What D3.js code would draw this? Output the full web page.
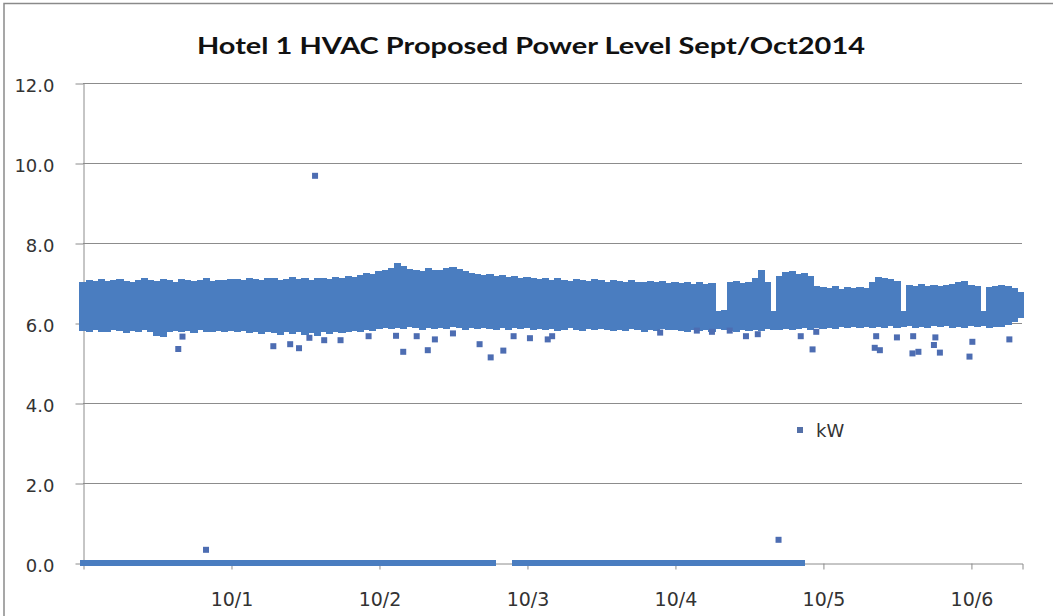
<!DOCTYPE html>
<html>
<head>
<meta charset="utf-8">
<script src="https://cdn.jsdelivr.net/npm/d3@7"></script>
<style>
  html, body { margin: 0; padding: 0; background: #ffffff; }
  svg { display: block; }
</style>
</head>
<body>
<svg id="chart" width="1053" height="616"></svg>
<script>
// ---- data -------------------------------------------------------------
const chartTitle = "Hotel 1 HVAC Proposed Power Level Sept/Oct2014";
const seriesName = "kW";

// time axis extent
const axisRange = ["2014-09-30 00:00", "2014-10-06 08:17"];
const dayTicks = ["2014-10-01 00:00", "2014-10-02 00:00", "2014-10-03 00:00",
                  "2014-10-04 00:00", "2014-10-05 00:00", "2014-10-06 00:00"];
const valueTicks = [0, 2, 4, 6, 8, 10, 12];

// hourly readings starting 9/30 00:00: highest and lowest kW in each hour
const bandStart = "2014-09-30 00:00";
const hourlyHigh = [
  6.95,7.00,6.98,7.02,6.97,7.00,7.03,6.98,6.96,7.01,7.04,6.99,6.97,7.02,7.00,6.96,7.03,7.01,6.98,7.00,7.04,6.97,7.01,6.99,7.02,
  7.03,7.00,7.05,7.02,6.99,7.04,7.06,7.01,7.03,7.07,7.02,7.05,7.00,7.04,7.06,7.03,7.08,7.05,7.10,7.07,7.12,7.18,7.15,7.22,
  7.25,7.30,7.42,7.35,7.28,7.25,7.22,7.30,7.26,7.24,7.30,7.33,7.28,7.22,7.18,7.15,7.12,7.15,7.10,7.12,7.08,7.10,7.06,7.08,
  7.05,7.02,7.06,7.00,7.04,7.01,6.98,7.03,7.00,6.97,7.02,6.99,6.96,7.00,6.97,6.95,6.99,6.96,6.94,6.98,6.95,6.97,6.93,6.96,
  6.92,6.95,6.90,6.94,6.91,6.93,6.22,6.24,6.95,6.98,6.92,6.96,7.05,7.25,6.95,6.22,7.10,7.20,7.22,7.15,7.18,7.10,6.85,6.82,
  6.80,6.84,6.78,6.82,6.80,6.83,6.79,6.95,7.08,7.05,7.02,6.98,6.22,6.88,6.85,6.90,6.86,6.88,6.84,6.87,6.90,6.95,6.97,6.88,
  6.85,6.22,6.82,6.86,6.88,6.85,6.80,6.70
];
const hourlyLow = [
  5.88,5.85,5.90,5.86,5.84,5.89,5.87,5.83,5.88,5.85,5.90,5.86,5.76,5.72,5.84,5.88,5.85,5.87,5.83,5.89,5.86,5.84,5.88,5.85,5.87,
  5.84,5.88,5.82,5.86,5.80,5.85,5.83,5.78,5.84,5.80,5.86,5.78,5.82,5.76,5.84,5.80,5.86,5.82,5.85,5.88,5.84,5.90,5.87,5.92,
  5.95,5.92,5.96,5.93,5.97,5.94,5.90,5.95,5.92,5.96,5.93,5.98,5.94,5.91,5.95,5.92,5.96,5.93,5.90,5.94,5.91,5.95,5.92,5.94,
  5.90,5.93,5.89,5.92,5.88,5.91,5.94,5.90,5.87,5.92,5.89,5.93,5.90,5.88,5.91,5.87,5.92,5.89,5.86,5.90,5.88,5.92,5.89,5.91,
  5.88,5.85,5.90,5.87,5.89,5.86,5.92,5.90,5.88,5.85,5.89,5.87,5.90,5.88,5.92,5.91,5.89,5.93,5.90,5.92,5.94,5.91,5.95,5.93,
  5.96,5.93,5.97,5.94,5.98,5.95,5.97,5.94,5.98,5.96,5.99,5.95,5.97,6.00,5.96,5.98,5.95,5.99,5.97,6.00,5.96,5.98,5.95,5.99,
  5.97,6.00,5.96,5.98,5.97,6.02,6.10,6.20
];

// stretches where the unit read 0 kW (off)
const zeroRuns = [
  ["2014-09-30 00:00", "2014-10-02 18:29"],
  ["2014-10-02 22:05", "2014-10-04 20:38"]
];

// individual readings away from the main band
const strayTimes = [
  "2014-09-30 15:27","2014-09-30 16:08","2014-09-30 19:57","2014-10-01 06:52","2014-10-01 09:36",
  "2014-10-01 11:02","2014-10-01 12:43","2014-10-01 13:38","2014-10-01 15:07","2014-10-01 17:46",
  "2014-10-01 22:19","2014-10-02 02:46","2014-10-02 03:56","2014-10-02 06:07","2014-10-02 07:55",
  "2014-10-02 09:04","2014-10-02 12:00","2014-10-02 16:19","2014-10-02 18:07","2014-10-02 20:10",
  "2014-10-02 21:50","2014-10-03 00:29","2014-10-03 03:22","2014-10-03 04:05","2014-10-03 21:36",
  "2014-10-04 03:33","2014-10-04 06:00","2014-10-04 08:53","2014-10-04 11:31","2014-10-04 13:26",
  "2014-10-04 16:48","2014-10-04 20:24","2014-10-04 22:19","2014-10-04 22:55","2014-10-05 08:24",
  "2014-10-05 08:38","2014-10-05 09:14","2014-10-05 12:00","2014-10-05 14:31","2014-10-05 14:38",
  "2014-10-05 15:29","2014-10-05 18:00","2014-10-05 18:14","2014-10-05 18:58","2014-10-05 23:46",
  "2014-10-06 00:14","2014-10-06 06:14"
];
const strayValues = [
  5.35,5.66,0.33,5.42,5.47,
  5.37,5.63,9.68,5.57,5.57,
  5.67,5.68,5.28,5.67,5.32,
  5.59,5.74,5.47,5.14,5.31,
  5.67,5.62,5.59,5.67,5.76,
  5.81,5.78,5.81,5.67,5.72,
  0.58,5.67,5.34,5.78,5.38,
  5.67,5.32,5.64,5.24,5.67,
  5.28,5.45,5.64,5.26,5.16,
  5.53,5.59
];

// ---- layout -----------------------------------------------------------
const parse = d3.timeParse("%Y-%m-%d %H:%M");
const plot = { left: 83, right: 1022, top: 83, bottom: 563 };
const markerSize = 6;
const bandColor = "#4A7DC0";
const strayColor = "#4D6DB2";
const gridColor = "#8C8C8C";
const textColor = "#333333";

const svg = d3.select("#chart");

const x = d3.scaleTime()
  .domain(axisRange.map(parse))
  .range([plot.left, plot.right]);
const y = d3.scaleLinear()
  .domain([0, 12])
  .range([plot.bottom, plot.top]);

// outer chart frame
svg.append("rect")
  .attr("x", 4).attr("y", 3.5)
  .attr("width", 1200).attr("height", 800)
  .attr("fill", "none")
  .attr("stroke", "#8A8A8A")
  .attr("stroke-width", 1.5);

// title
svg.append("text")
  .attr("x", 531).attr("y", 54)
  .attr("text-anchor", "middle")
  .attr("font-family", "Lato, 'Open Sans', sans-serif")
  .attr("font-weight", "bold")
  .attr("font-size", 23)
  .attr("fill", "#111111")
  .attr("textLength", 668)
  .attr("lengthAdjust", "spacingAndGlyphs")
  .text(chartTitle);

// horizontal gridlines
svg.append("g")
  .selectAll("line")
  .data(valueTicks.filter(v => v > 0))
  .join("line")
  .attr("x1", plot.left).attr("x2", plot.right)
  .attr("y1", d => Math.round(y(d)) + 0.5)
  .attr("y2", d => Math.round(y(d)) + 0.5)
  .attr("stroke", gridColor)
  .attr("stroke-width", 1);

// value axis
const yAxis = svg.append("g")
  .attr("transform", `translate(${plot.left + 0.5},0.5)`)
  .call(d3.axisLeft(y)
    .tickValues(valueTicks)
    .tickFormat(d3.format(".1f"))
    .tickSize(8)
    .tickSizeOuter(0)
    .tickPadding(21));
yAxis.selectAll("path, line").attr("stroke", gridColor);
yAxis.selectAll("text")
  .attr("font-family", "'DejaVu Sans', sans-serif")
  .attr("font-size", 18)
  .attr("fill", textColor)
  .attr("dy", "0.42em");

// time axis
const xAxis = svg.append("g")
  .attr("transform", `translate(0.5,${plot.bottom + 0.5})`)
  .call(d3.axisBottom(x)
    .tickValues(dayTicks.map(parse))
    .tickFormat(d3.timeFormat("%-m/%-d"))
    .tickSize(6)
    .tickSizeOuter(6)
    .tickPadding(23));
xAxis.selectAll("path, line").attr("stroke", gridColor);
xAxis.selectAll("text")
  .attr("font-family", "'DejaVu Sans', sans-serif")
  .attr("font-size", 19)
  .attr("fill", textColor);

// ---- marks ------------------------------------------------------------
const marks = svg.append("g");
const t0 = parse(bandStart);
const hourly = hourlyHigh.map((hi, i) => ({
  t: d3.timeHour.offset(t0, i),
  hi: hi,
  lo: hourlyLow[i]
}));

// main operating band: every hour spans from its lowest to highest reading
const xl = d => Math.floor(x(d3.timeMinute.offset(d.t, -30)));
const xr = d => Math.ceil(x(d3.timeMinute.offset(d.t, 30)));
marks.append("g")
  .attr("shape-rendering", "crispEdges")
  .selectAll("rect")
  .data(hourly)
  .join("rect")
  .attr("x", xl)
  .attr("width", d => xr(d) - xl(d))
  .attr("y", d => Math.round(y(d.hi) - markerSize / 2))
  .attr("height", d => Math.round(y(d.lo) + markerSize / 2) - Math.round(y(d.hi) - markerSize / 2))
  .attr("fill", bandColor);

// readings at 0 kW
marks.append("g")
  .attr("shape-rendering", "crispEdges")
  .selectAll("rect")
  .data(zeroRuns.map(r => r.map(parse)))
  .join("rect")
  .attr("x", d => x(d[0]) - markerSize / 2)
  .attr("width", d => x(d[1]) - x(d[0]) + markerSize)
  .attr("y", y(0) - markerSize / 2)
  .attr("height", markerSize)
  .attr("fill", bandColor);

// stray readings
marks.append("g")
  .selectAll("rect")
  .data(strayTimes.map((s, i) => ({ t: parse(s), v: strayValues[i] })))
  .join("rect")
  .attr("x", d => x(d.t) - markerSize / 2)
  .attr("y", d => y(d.v) - markerSize / 2)
  .attr("width", markerSize)
  .attr("height", markerSize)
  .attr("fill", strayColor);

// legend
const legend = svg.append("g").attr("transform", "translate(800,430)");
legend.append("rect")
  .attr("x", -3).attr("y", -3)
  .attr("width", markerSize).attr("height", markerSize)
  .attr("fill", "#5470A8");
legend.append("text")
  .attr("x", 16).attr("y", 7)
  .attr("font-family", "'DejaVu Sans', sans-serif")
  .attr("font-size", 18)
  .attr("fill", textColor)
  .text(seriesName);
</script>
</body>
</html>
